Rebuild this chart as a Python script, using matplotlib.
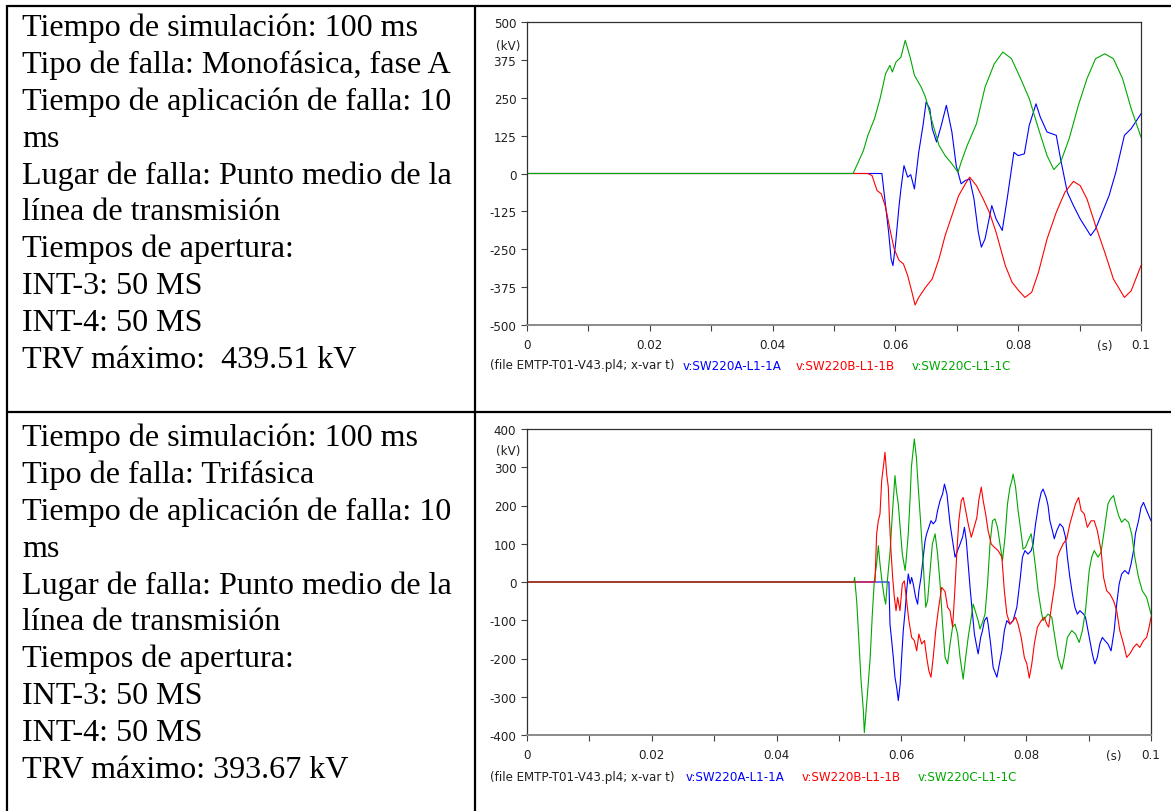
import matplotlib
matplotlib.use("Agg")
import matplotlib.pyplot as plt
from matplotlib.lines import Line2D

W, H = 1171, 812

# ---------------- case descriptions ----------------
case1_lines = [
    "Tiempo de simulación: 100 ms",
    "Tipo de falla: Monofásica, fase A",
    "Tiempo de aplicación de falla: 10",
    "ms",
    "Lugar de falla: Punto medio de la",
    "línea de transmisión",
    "Tiempos de apertura:",
    "INT-3: 50 MS",
    "INT-4: 50 MS",
    "TRV máximo:  439.51 kV",
]
case2_lines = [
    "Tiempo de simulación: 100 ms",
    "Tipo de falla: Trifásica",
    "Tiempo de aplicación de falla: 10",
    "ms",
    "Lugar de falla: Punto medio de la",
    "línea de transmisión",
    "Tiempos de apertura:",
    "INT-3: 50 MS",
    "INT-4: 50 MS",
    "TRV máximo: 393.67 kV",
]

# ---------------- waveforms, case 1 (single-phase fault) ----------------
# times in ms, voltages in kV
t1_a = [0, 57.8, 57.9, 58.4, 58.9, 59.3, 59.6, 60.0, 60.6, 60.9, 61.4, 62.0, 62.5,
        63.1, 63.8, 64.5, 65.0, 65.6, 66.0, 66.7, 67.4, 68.3, 69.2, 69.9, 70.7, 71.4,
        72.1, 72.8, 73.5, 74.0, 74.6, 75.7, 76.4, 77.4, 78.2, 79.3, 80.0, 81.0, 81.8,
        82.9, 83.6, 84.7, 86.2, 86.9, 88.0, 89.0, 90.1, 91.8, 92.6, 93.7, 94.8, 95.9,
        97.3, 98.4, 100.0]
v1_a = [0, 0, -18, -106, -194, -282, -304, -238, -106, -51, 26, -12, -4,
        -51, 70, 159, 236, 214, 148, 104, 153, 225, 137, 26, -34, -23,
        -18, -84, -194, -243, -216, -106, -150, -188, -84, 70, 59, 65, 159,
        230, 186, 137, 126, 48, -62, -106, -150, -205, -183, -128, -73, 4,
        126, 148, 197]

t1_b = [0, 55.5, 56.2, 57.0, 57.7, 58.4, 59.1, 59.8, 60.6, 61.3, 62.0, 62.7, 63.2,
        63.8, 64.9, 66.0, 67.1, 68.1, 69.2, 70.3, 71.4, 72.1, 73.2, 74.3, 75.3, 76.4,
        77.9, 79.0, 80.1, 81.1, 82.2, 83.3, 84.7, 86.2, 87.6, 89.0, 90.1, 91.2, 92.6,
        94.1, 95.5, 97.3, 98.4, 100.0]
v1_b = [0, 0, -7, -56, -67, -111, -183, -249, -287, -298, -337, -392, -434,
        -409, -376, -348, -282, -205, -139, -73, -34, -12, -40, -84, -128, -194,
        -304, -359, -387, -409, -392, -326, -216, -128, -62, -26, -40, -84, -172,
        -260, -348, -409, -387, -304]

t1_c = [0, 53.1, 53.7, 54.8, 55.5, 56.6, 57.5, 58.4, 59.1, 59.5, 60.1, 60.9, 61.6,
        62.4, 63.1, 64.2, 64.9, 66.0, 67.1, 68.1, 69.2, 70.2, 70.7, 71.7, 73.2, 74.6,
        76.1, 77.5, 78.9, 80.4, 81.8, 83.3, 84.7, 85.8, 86.9, 88.3, 89.8, 91.2, 92.6,
        94.1, 95.5, 97.0, 98.4, 100.0]
v1_c = [0, 0, 26, 76, 125, 181, 247, 329, 357, 335, 368, 384, 439.5,
        384, 324, 285, 252, 170, 93, 59, 32, 4, 37, 93, 164, 285,
        362, 401, 379, 313, 247, 148, 59, 13, 37, 115, 225, 313, 379,
        395, 379, 313, 214, 120]

# ---------------- waveforms, case 2 (three-phase fault) ----------------
t2_a = [0, 58.0, 58.17, 58.44, 58.7, 58.97, 59.24, 59.5, 59.8, 60.04, 60.3, 60.6,
        60.84, 61.1, 61.4, 61.64, 61.9, 62.28, 62.6, 62.8, 63.14, 63.5, 63.8, 64.05,
        64.4, 64.74, 65.1, 65.5, 65.8, 66.2, 66.6, 66.9, 67.3, 67.8, 68.2, 68.6, 69.0,
        69.4, 69.8, 70.1, 70.4, 70.7, 71.05, 71.4, 71.7, 72.1, 72.3, 72.7, 73.0, 73.3,
        73.7, 73.9, 74.3, 74.7, 75.3, 75.6, 76.1, 76.5, 76.9, 77.4, 77.9, 78.5, 79.0,
        79.4, 79.8, 80.3, 80.8, 81.1, 81.5, 82.0, 82.4, 82.7, 83.2, 83.5, 83.8, 84.2,
        84.5, 84.9, 85.4, 85.9, 86.3, 86.6, 87.0, 87.4, 87.8, 88.2, 88.6, 89.2, 89.5,
        89.8, 90.2, 90.6, 91.0, 91.4, 91.8, 92.2, 92.6, 93.1, 93.6, 94.1, 94.5, 94.9,
        95.3, 95.8, 96.4, 96.8, 97.2, 97.5, 98.0, 98.4, 98.8, 99.3, 100.0]
v2_a = [0, 0, -110, -153, -197, -249, -275, -310, -267, -197, -127, -75,
        -23, 21, -5, 12, -5, -40, -58, -23, 12, 65, 108, 126,
        143, 160, 152, 160, 187, 213, 230, 256, 230, 152, 108, 65, 82,
        99, 117, 143, 108, 47, -23, -84, -136, -171, -188, -145, -127, -101,
        -92, -110, -162, -223, -249, -223, -180, -127, -101, -110, -101, -66, 3,
        65, 82, 73, 82, 99, 152, 204, 234, 243, 221, 200, 160, 134,
        113, 134, 152, 143, 117, 65, 12, -31, -66, -84, -75, -84, -92,
        -118, -153, -188, -214, -197, -162, -145, -153, -162, -180, -127, -58, -5,
        21, 30, 21, 47, 82, 126, 160, 195, 208, 187, 160]

t2_b = [0, 55.77, 56.03, 56.3, 56.57, 56.84, 57.1, 57.37, 57.64, 57.9, 58.07, 58.33,
        58.6, 58.87, 59.14, 59.4, 59.77, 60.15, 60.47, 60.84, 61.2, 61.64, 62.07, 62.45,
        62.8, 63.25, 63.7, 64.05, 64.4, 64.74, 65.1, 65.5, 65.9, 66.45, 67.0, 67.4,
        67.8, 68.2, 68.5, 68.9, 69.2, 69.6, 69.9, 70.3, 70.7, 71.2, 71.5, 72.1, 72.4,
        72.8, 73.1, 73.5, 73.9, 74.4, 74.9, 75.5, 76.1, 76.5, 76.9, 77.4, 77.9, 78.3,
        78.7, 79.2, 79.7, 80.1, 80.5, 80.9, 81.3, 81.8, 82.4, 82.9, 83.3, 83.6, 84.1,
        84.6, 85.0, 85.4, 85.9, 86.5, 87.0, 87.6, 87.9, 88.4, 88.8, 89.3, 89.8, 90.4,
        90.9, 91.4, 92.0, 92.4, 92.9, 93.4, 94.0, 94.5, 95.0, 95.6, 96.1, 96.6, 97.2,
        97.7, 98.2, 98.8, 99.3, 99.7, 100.0]
v2_b = [0, 0, 126, 160, 178, 265, 300, 339, 282, 248, 169, 82,
        12, -40, -75, -40, -75, -5, 3, -49, -101, -145, -153, -180,
        -136, -162, -153, -197, -232, -249, -197, -127, -75, -14, -25, -66,
        -75, -118, -40, 82, 160, 213, 221, 187, 152, 117, 134, 169, 213,
        248, 213, 178, 134, 99, 91, 82, 65, -23, -84, -110, -101, -92,
        -110, -145, -197, -214, -251, -214, -162, -118, -101, -92, -110, -118, -58,
        -5, 65, 82, 99, 113, 152, 187, 204, 221, 187, 178, 143, 160,
        160, 134, 82, 12, -23, -31, -49, -75, -127, -162, -197, -188, -171,
        -162, -171, -153, -145, -118, -92]

t2_c = [0, 52.4, 52.5, 52.83, 53.1, 53.5, 53.9, 54.06, 54.3, 54.6, 55.0, 55.34,
        55.66, 56.03, 56.3, 56.57, 56.94, 57.26, 57.48, 57.8, 58.2, 58.55, 58.97, 59.2,
        59.5, 59.8, 60.15, 60.6, 60.8, 61.1, 61.4, 61.6, 62.07, 62.4, 62.7, 63.1, 63.5,
        63.9, 64.2, 64.6, 64.96, 65.4, 65.8, 66.2, 66.6, 67.0, 67.4, 67.8, 68.2, 68.6,
        69.0, 69.4, 69.9, 70.3, 70.7, 71.2, 71.5, 71.9, 72.3, 72.6, 73.0, 73.4, 73.8,
        74.2, 74.6, 75.0, 75.4, 75.8, 76.2, 76.6, 77.0, 77.4, 77.7, 77.9, 78.3, 78.7,
        79.2, 79.5, 79.9, 80.3, 80.8, 81.1, 81.5, 81.9, 82.4, 82.7, 83.3, 83.5, 84.1,
        84.6, 85.1, 85.7, 86.1, 86.6, 87.3, 87.9, 88.5, 89.0, 89.5, 90.1, 90.5, 90.9,
        91.5, 92.0, 92.5, 93.1, 93.5, 94.0, 94.3, 94.8, 95.3, 95.8, 96.4, 96.9, 97.4,
        98.0, 98.6, 99.3, 100.0]
v2_c = [0, 0, 12, -49, -127, -249, -336, -393.67, -345, -284, -197, -84,
        3, 47, 95, 47, -5, -40, -58, 12, 82, 178, 278, 239,
        204, 143, 73, 30, 65, 126, 221, 300, 374, 326, 248, 152, 47,
        -66, -49, 30, 99, 126, 73, -5, -110, -197, -214, -162, -118, -110,
        -136, -197, -254, -197, -145, -92, -58, -79, -101, -123, -105, -84, -5,
        99, 160, 165, 143, 99, 56, 117, 204, 248, 265, 282, 248, 187,
        126, 86, 91, 108, 126, 91, 38, -23, -75, -101, -88, -84, -92,
        -145, -197, -228, -197, -145, -127, -136, -158, -127, -75, 30, 65, 82,
        65, 78, 134, 204, 217, 226, 204, 174, 156, 165, 156, 126, 65,
        12, -23, -40, -84]

x_ticks = [0, 0.02, 0.04, 0.06, 0.08, 0.1]
x_tick_labels = ["0", "0.02", "0.04", "0.06", "0.08", "0.1"]
y_ticks_1 = [-500, -375, -250, -125, 0, 125, 250, 375, 500]
y_ticks_2 = [-400, -300, -200, -100, 0, 100, 200, 300, 400]

file_label = "(file EMTP-T01-V43.pl4; x-var t)"
series_names = ["v:SW220A-L1-1A", "v:SW220B-L1-1B", "v:SW220C-L1-1C"]
series_colors = ["#0000ff", "#ff0000", "#00a800"]

# ---------------- figure ----------------
fig = plt.figure(figsize=(W / 100, H / 100), dpi=100)
fig.patch.set_facecolor("white")

serif = "Liberation Serif"
sans = "DejaVu Sans"
small = 8.6


def fx(px):
    return px / W


def fy(py):
    return 1 - py / H


# table grid
grid_kw = dict(color="black", lw=1.6, solid_capstyle="butt")
fig.add_artist(Line2D([fx(7), fx(1171)], [fy(7), fy(7)], transform=fig.transFigure, **grid_kw))
fig.add_artist(Line2D([fx(7), fx(1171)], [fy(413), fy(413)], transform=fig.transFigure, **grid_kw))
fig.add_artist(Line2D([fx(7), fx(7)], [fy(6), fy(812)], transform=fig.transFigure, **grid_kw))
fig.add_artist(Line2D([fx(475), fx(475)], [fy(6), fy(812)], transform=fig.transFigure, **grid_kw))

# description cells
for lines, base in ((case1_lines, 36), (case2_lines, 446)):
    for i, s in enumerate(lines):
        fig.text(fx(22), fy(base + 36.9 * i), s, fontsize=23.1, family=serif,
                 ha="left", va="baseline", color="black")


def draw_panel(rect, series, yticks, kv_pos, legend_y, legend_x, order):
    left, top, right, bottom = rect
    ax = fig.add_axes([fx(left), fy(bottom), (right - left) / W, (bottom - top) / H])
    for idx in order:
        t, v = series[idx]
        ax.plot([x / 1000 for x in t], v, color=series_colors[idx], lw=0.8)
    ax.set_xlim(0, 0.1)
    ax.set_ylim(yticks[0], yticks[-1])
    ax.set_xticks(x_ticks)
    ax.set_xticklabels(x_tick_labels)
    ax.set_xticks([0.01, 0.03, 0.05, 0.07, 0.09], minor=True)
    ax.set_yticks(yticks)
    ax.set_yticklabels([str(v) for v in yticks])
    for lab in ax.get_xticklabels() + ax.get_yticklabels():
        lab.set_family(sans)
        lab.set_fontsize(small)
    ax.tick_params(axis="both", which="both", direction="out", length=4.2,
                   width=0.8, color="#404040", labelcolor="#202020")
    ax.tick_params(axis="x", pad=5.5)
    ax.tick_params(axis="y", pad=3.5)
    for side in ("top", "right", "left"):
        ax.spines[side].set_color("#303030")
        ax.spines[side].set_linewidth(0.9)
    ax.spines["bottom"].set_color("#8a8a8a")
    ax.spines["bottom"].set_linewidth(1.4)
    ax.annotate("(s)", xy=(0.0941, 0), xycoords=("data", "axes fraction"),
                xytext=(0, -9.9), textcoords="offset points", ha="center", va="top",
                fontsize=small, family=sans, color="#202020")
    ax.annotate("(kV)", xy=(0, kv_pos), xycoords=("axes fraction", "data"),
                xytext=(-4.5, 0), textcoords="offset points", ha="right", va="center",
                fontsize=small, family=sans, color="#202020")
    # signal key line under the plot
    fig.text(fx(490), fy(legend_y), file_label, fontsize=small, family=sans,
             color="#202020", ha="left", va="center")
    for name, col, xp in zip(series_names, series_colors, legend_x):
        fig.text(fx(xp), fy(legend_y), name, fontsize=small, family=sans,
                 color=col, ha="left", va="center")
    return ax


draw_panel((527, 23, 1141, 326),
           [(t1_a, v1_a), (t1_b, v1_b), (t1_c, v1_c)],
           y_ticks_1, 424, 366, [683, 796, 912], order=[0, 1, 2])
draw_panel((527, 430, 1151, 736),
           [(t2_a, v2_a), (t2_b, v2_b), (t2_c, v2_c)],
           y_ticks_2, 345, 778, [686, 802, 918], order=[0, 2, 1])

fig.savefig("out.png", dpi=100, facecolor="white")
